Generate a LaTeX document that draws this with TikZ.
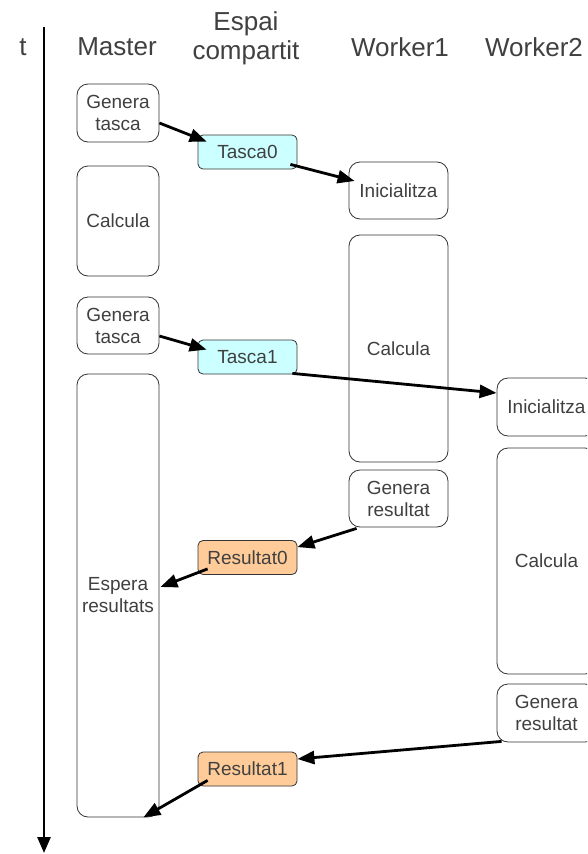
\documentclass[tikz,border=0pt]{standalone}
\usepackage{fontspec}
\setmainfont{Liberation Sans}
\usetikzlibrary{arrows.meta,calc}
\definecolor{txt}{HTML}{404040}
\definecolor{edge}{HTML}{333333}
\definecolor{cyanfill}{HTML}{CCFFFF}
\definecolor{orangefill}{HTML}{FFCC99}
\begin{document}
\begin{tikzpicture}[x=1pt,y=-1pt,
  box/.style={draw=edge, line width=0.8pt, rounded corners=11pt, inner sep=0pt,
    align=center, text=txt, font=\fontsize{19}{22}\selectfont},
  mbox/.style={box, minimum width=82pt},
  sbox/.style={box, rounded corners=5pt, minimum width=99pt, minimum height=34pt},
  wbox/.style={box, minimum width=99pt},
  head/.style={inner sep=0pt, align=center, text=txt, font=\fontsize{26}{29}\selectfont},
  conn/.style={line width=2.8pt, black, -{Triangle[length=17pt,width=13pt]}}]
\clip (0,0) rectangle (587,854);
\fill[white] (0,0) rectangle (587,854);
% headers
\node[head] (ht) at (23,47) {t};
\node[head] (hm) at (117,47) {Master};
\node[head] (he) at (246,38) {Espai\\compartit};
\node[head] (hw1) at (400,47) {Worker1};
\node[head] (hw2) at (534,47) {Worker2};
% timeline
\coordinate (ttop) at (44,27);
\coordinate (tbot) at (44,853);
\draw[line width=2.8pt, -{Triangle[length=16pt,width=13pt]}] (ttop) -- (tbot);
% master
\node[mbox, minimum height=58pt] (gt1) at (118,113) {Genera\\tasca};
\node[mbox, minimum height=110pt] (mc) at (118,221) {Calcula};
\node[mbox, minimum height=57pt] (gt2) at (118,325.5) {Genera\\tasca};
\node[mbox, minimum height=443pt] (esp) at (118,595.5) {Espera\\resultats};
% shared space
\node[sbox, fill=cyanfill] (t0) at (247.5,152) {Tasca0};
\node[sbox, fill=cyanfill] (t1) at (247.5,357) {Tasca1};
\node[sbox, fill=orangefill] (r0) at (247.5,557.5) {Resultat0};
\node[sbox, fill=orangefill] (r1) at (247.5,769) {Resultat1};
% worker1
\node[wbox, minimum height=57pt] (ini1) at (398.5,190.5) {Inicialitza};
\node[wbox, minimum height=227pt] (calc1) at (398.5,348.5) {Calcula};
\node[wbox, minimum height=57pt] (gen1) at (398.5,498.5) {Genera\\resultat};
% worker2
\node[wbox, minimum height=58pt] (ini2) at (546.5,407) {Inicialitza};
\node[wbox, minimum height=226pt] (calc2) at (546.5,561) {Calcula};
\node[wbox, minimum height=58pt] (gen2) at (546.5,713) {Genera\\resultat};
% connectors
\draw[conn] ($(gt1.east)+(0,10)$) -- ($(t0.north west)+(9,7)$);
\draw[conn] ($(t0.south east)+(-7,-5)$) -- ($(ini1.west)+(6,-9.5)$);
\draw[conn] ($(gt2.east)+(0,10.5)$) -- ($(t1.north west)+(9,10)$);
\draw[conn] ($(t1.south east)+(-5,-1)$) -- ($(ini2.west)+(0,-14)$);
\draw[conn] ($(gen1.south west)+(8,1)$) -- ($(r0.north east)+(0,7)$);
\draw[conn] ($(r0.south west)+(10,-6)$) -- ($(esp.east)+(1,-8.5)$);
\draw[conn] ($(gen2.south west)+(5,-1)$) -- ($(r1.east)+(0,-10)$);
\draw[conn] ($(r1.south west)+(10,-6)$) -- ($(esp.south east)+(-16,0)$);
\end{tikzpicture}
\end{document}
